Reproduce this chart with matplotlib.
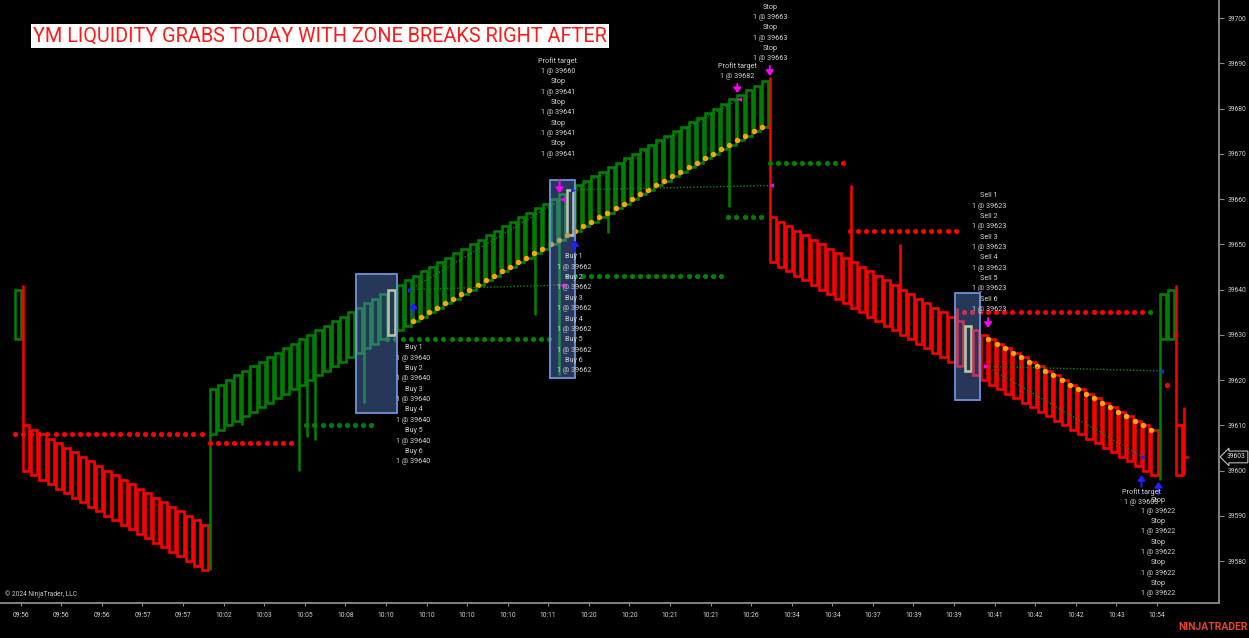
import matplotlib
matplotlib.use("Agg")
import matplotlib.pyplot as plt
from matplotlib.patches import Rectangle
import numpy as np

plt.rcParams['font.family'] = ['Roboto', 'DejaVu Sans']

# ---------------- data ----------------
title = "YM LIQUIDITY GRABS TODAY WITH ZONE BREAKS RIGHT AFTER"

x_tick_labels = ["09:56", "09:56", "09:56", "09:57", "09:57", "10:02", "10:03", "10:05",
                 "10:08", "10:10", "10:10", "10:10", "10:10", "10:11", "10:20", "10:20",
                 "10:21", "10:21", "10:26", "10:34", "10:34", "10:37", "10:39", "10:39",
                 "10:41", "10:42", "10:42", "10:43", "10:54"]
y_ticks = [39580, 39590, 39600, 39610, 39620, 39630, 39640, 39650, 39660, 39670, 39680, 39690, 39700]

# bar box tops / bottoms (bars 0..143)
box_top = [39640,
           39610, 39609, 39608, 39607, 39606, 39605, 39604, 39603, 39602, 39601, 39600, 39599,
           39598, 39597, 39596, 39595, 39594, 39593, 39592, 39591, 39590, 39589, 39588,
           39618, 39619, 39620, 39621, 39622, 39623, 39624, 39625, 39626, 39627,
           39628, 39629, 39630, 39631, 39632, 39633, 39634, 39635, 39636, 39637,
           39638, 39639, 39640, 39641, 39642, 39643, 39644, 39645, 39646, 39647,
           39648, 39649, 39650, 39651, 39652, 39653, 39654, 39655, 39656, 39657,
           39658, 39659, 39660, 39661, 39662, 39663, 39664, 39665, 39666, 39667,
           39668, 39669, 39670, 39671, 39672, 39673, 39674, 39675, 39676, 39677,
           39678, 39679, 39680, 39681, 39682, 39683, 39684, 39685, 39686,
           39656, 39655, 39654, 39653, 39652, 39651, 39650, 39649, 39648, 39647,
           39646, 39645, 39644, 39643, 39642, 39641, 39640, 39639, 39638, 39637,
           39636, 39635, 39634, 39633, 39632, 39631, 39630, 39629, 39628, 39627,
           39626, 39625, 39624, 39623, 39622, 39621, 39620, 39619, 39618, 39617,
           39616, 39615, 39614, 39613, 39612, 39611, 39610, 39609,
           39639, 39640, 39610]
box_bottom = [39629,
              39600, 39599, 39598, 39597, 39596, 39595, 39594, 39593, 39592, 39591, 39590, 39589,
              39588, 39587, 39586, 39585, 39584, 39583, 39582, 39581, 39580, 39579, 39578,
              39608, 39609, 39610, 39611, 39612, 39613, 39614, 39615, 39616, 39617,
              39618, 39619, 39620, 39621, 39622, 39623, 39624, 39625, 39626, 39627,
              39628, 39629, 39630, 39631, 39632, 39633, 39634, 39635, 39636, 39637,
              39638, 39639, 39640, 39641, 39642, 39643, 39644, 39645, 39646, 39647,
              39648, 39649, 39650, 39651, 39652, 39653, 39654, 39655, 39656, 39657,
              39658, 39659, 39660, 39661, 39662, 39663, 39664, 39665, 39666, 39667,
              39668, 39669, 39670, 39671, 39672, 39673, 39674, 39675, 39676,
              39646, 39645, 39644, 39643, 39642, 39641, 39640, 39639, 39638, 39637,
              39636, 39635, 39634, 39633, 39632, 39631, 39630, 39629, 39628, 39627,
              39626, 39625, 39624, 39623, 39622, 39621, 39620, 39619, 39618, 39617,
              39616, 39615, 39614, 39613, 39612, 39611, 39610, 39609, 39608, 39607,
              39606, 39605, 39604, 39603, 39602, 39601, 39600, 39599,
              39629, 39629, 39599]
# colour runs: G up, R down, Y highlighted signal bar
bar_runs = [("G", 1), ("R", 23), ("G", 22), ("Y", 1), ("G", 21), ("Y", 1), ("G", 24),
            ("R", 24), ("Y", 1), ("R", 23), ("G", 2), ("R", 1)]
wick_low = {24: 39578, 28: 39610, 35: 39600, 36: 39607.5, 37: 39606.7, 43: 39615,
            64: 39634.4, 67: 39621, 73: 39652.5, 88: 39658.3, 141: 39598}
wick_high = {1: 39641, 93: 39687, 103: 39663, 109: 39650, 116: 39636, 143: 39641}
open_ticks = [(1, 39630), (24, 39588), (93, 39676), (141, 39609), (143, 39630)]
# current (forming) bar 144
last_bar = 144
last_high, last_low, last_open, last_close = 39614, 39599, 39610, 39603

# zone dots
zone_price = [39608, 39606, 39610, 39629, 39643, 39656, 39668, 39653, 39635]
zone_start = [-0.4, 23.6, 35.5, 45.4, 67.6, 87.5, 92.6, 102.5, 116.5]
zone_end = [22.6, 33.6, 43.5, 65.4, 86.6, 91.5, 100.6, 115.5, 138.5]
zone_color = ["R", "R", "G", "G", "G", "G", "G", "R", "R"]
single_dots = [(101.6, 39668, "R"), (139.5, 39635, "G"), (141.5, 39619, "R")]

# trailing stop (orange) dots
trail_up_first = 49
trail_up = [39633, 39634, 39635, 39636, 39637, 39638, 39639, 39640, 39641, 39642, 39643,
            39644, 39645, 39646, 39647, 39648, 39649, 39650, 39651, 39652, 39653, 39654,
            39655, 39656, 39657, 39658, 39659, 39660, 39661, 39662, 39663, 39664, 39665,
            39666, 39667, 39668, 39669, 39670, 39671, 39672, 39673, 39674, 39675, 39676]
trail_dn_first = 120
trail_dn = [39629, 39628, 39627, 39626, 39625, 39624, 39623, 39622, 39621, 39620, 39619,
            39618, 39617, 39616, 39615, 39614, 39613, 39612, 39611, 39610, 39609]

# executions: entry -> exit dotted lines
exec_lines = [((48.3, 39640), (67.0, 39641)), ((48.3, 39640), (67.0, 39660)),
              ((68.4, 39662), (92.8, 39663)), ((68.4, 39662), (88.8, 39682)),
              ((119.3, 39623), (140.8, 39622)), ((119.3, 39623), (138.6, 39603))]
exec_marks = [(48.3, 39640, ">", "B"), (67.0, 39660, "<", "M"), (67.0, 39641, "<", "M"),
              (68.4, 39662, ">", "B"), (88.8, 39682, "<", "M"), (92.8, 39663, "<", "M"),
              (119.3, 39623, ">", "M"), (138.6, 39603, ">", "B"), (140.8, 39622, "<", "B")]
# arrows: bar, tail, tip
arrows = [(48.7, 39634.3, 39637.1, "B"), (68.6, 39648.3, 39650.9, "B"),
          (138.4, 39596.4, 39599.0, "B"), (140.5, 39594.8, 39597.5, "B"),
          (66.7, 39664.2, 39661.3, "M"), (88.6, 39685.4, 39683.4, "M"),
          (92.6, 39689.4, 39687.2, "M"), (119.5, 39633.7, 39631.5, "M")]
# highlight rectangles
hl_x0 = [41.6, 65.5, 115.4]
hl_x1 = [46.7, 68.6, 118.5]
hl_y0 = [39612.7, 39620.4, 39615.6]
hl_y1 = [39643.4, 39664.2, 39639.2]

# execution labels: (bar, first-line price, lines)
def pair(name, n, price):
    out = []
    for k in range(1, n + 1):
        out += [f"{name} {k}", f"1 @ {price}"]
    return out

labels = [
    (48.7, 39627.1, pair("Buy", 6, 39640)),
    (66.5, 39690.5, ["Profit target", "1 @ 39660"] + ["Stop", "1 @ 39641"] * 4),
    (68.5, 39647.2, pair("Buy", 6, 39662)),
    (92.6, 39702.4, ["Stop", "1 @ 39663"] * 3),
    (88.6, 39689.4, ["Profit target", "1 @ 39682"]),
    (119.6, 39660.7, pair("Sell", 6, 39623)),
    (138.4, 39595.25, ["Profit target", "1 @ 39603"]),
    (140.5, 39593.3, ["Stop", "1 @ 39622"] * 5),
]
current_price = 39603

# ---------------- styling ----------------
COL = {"G": "#008000", "R": "#ff0000", "Y": "#f0f07a", "B": "#2020ff", "M": "#ff00ff"}
BW = 0.76
LW = 1.85

fig = plt.figure(figsize=(12.49, 6.38), dpi=100, facecolor="black")
ax = fig.add_axes([0, 35 / 638, 1219 / 1249, 603 / 638])
ax.set_facecolor("black")
ax.set_xlim(-2.24, 147.95)
ax.set_ylim(39570.72, 39703.98)

# bars
colors = []
for c, n in bar_runs:
    colors += [c] * n
for i, (t, b, c) in enumerate(zip(box_top, box_bottom, colors)):
    col = COL[c]
    xl = i - BW / 2
    ax.add_patch(Rectangle((xl, b), BW, t - b, fill=False, ec=col, lw=LW,
                           joinstyle="miter", zorder=3))
    if i in wick_low:
        ax.plot([xl, xl], [wick_low[i], b], color=col, lw=LW, solid_capstyle="butt", zorder=3)
    if i in wick_high:
        ax.plot([xl, xl], [t, wick_high[i]], color=col, lw=LW, solid_capstyle="butt", zorder=3)
for i, p in open_ticks:
    xl = i - BW / 2
    ax.plot([xl - 0.3, xl], [p, p], color=COL[colors[i]], lw=LW, solid_capstyle="butt", zorder=3)
xl = last_bar - BW / 2
ax.plot([xl, xl], [last_low, last_high], color=COL["R"], lw=LW, solid_capstyle="butt", zorder=3)
ax.plot([xl - 0.3, xl], [last_open] * 2, color=COL["R"], lw=LW, zorder=3)
ax.plot([xl, xl + 0.35], [last_close] * 2, color=COL["R"], lw=LW, zorder=3)

# zone dots
for p, s, e, c in zip(zone_price, zone_start, zone_end, zone_color):
    xs = np.arange(s, e + 0.01, 1.0)
    ax.plot(xs, [p] * len(xs), "o", color=COL[c], ms=3.7, mew=0, zorder=4)
for x, p, c in single_dots:
    ax.plot([x], [p], "o", color=COL[c], ms=3.7, mew=0, zorder=4)

# trailing dots
xs = np.arange(trail_up_first, trail_up_first + len(trail_up)) - 0.4
ax.plot(xs, trail_up, "o", color="#ffa500", ms=3.9, mew=0, zorder=5)
xs = np.arange(trail_dn_first, trail_dn_first + len(trail_dn)) - 0.45
ax.plot(xs, trail_dn, "o", color="#ffa500", ms=3.9, mew=0, zorder=5)

# execution lines & markers
for (x0, y0), (x1, y1) in exec_lines:
    ax.plot([x0, x1], [y0, y1], color="#0f8a0f", lw=1.0, ls=(0, (1, 1.4)), zorder=5)
for x, p, m, c in exec_marks:
    ax.plot([x], [p], m, color=COL[c], ms=3.5, mew=0, zorder=7)
for x, tail, tip, c in arrows:
    ax.annotate("", xy=(x, tip), xytext=(x, tail),
                arrowprops=dict(arrowstyle="-|>,head_width=0.22,head_length=0.3",
                                color=COL[c], lw=1.4, shrinkA=0, shrinkB=0), zorder=7)

# highlight boxes
for x0, x1, y0, y1 in zip(hl_x0, hl_x1, hl_y0, hl_y1):
    ax.add_patch(Rectangle((x0, y0), x1 - x0, y1 - y0, fc=(0.39, 0.54, 0.88, 0.40),
                           ec="#6f93d6", lw=1.3, zorder=6))

# execution labels
for x, p, lines in labels:
    for k, s in enumerate(lines):
        ax.annotate(s, xy=(x, p), xytext=(0, -k * 7.45), textcoords="offset points",
                    ha="center", va="center", fontsize=5.2, color="#d2d2d2", zorder=8)

# axes
for s in ["top", "left"]:
    ax.spines[s].set_visible(False)
for s in ["bottom", "right"]:
    ax.spines[s].set_color("#8c8c8c")
    ax.spines[s].set_linewidth(1.3)
ax.yaxis.tick_right()
ax.set_yticks(y_ticks)
ax.set_yticklabels([str(v) for v in y_ticks])
ax.set_xticks([0.31 + 5 * j for j in range(len(x_tick_labels))])
ax.set_xticklabels(x_tick_labels)
ax.tick_params(axis="y", colors="#8c8c8c", labelcolor="#cfcfcf", labelsize=4.9,
               length=3.6, width=0.8, pad=2.8)
ax.tick_params(axis="x", colors="#8c8c8c", labelcolor="#cfcfcf", labelsize=4.9,
               length=2.2, width=0.8, pad=4.2)

ax.text(1.014, current_price, str(current_price), transform=ax.get_yaxis_transform(),
        ha="center", va="center", fontsize=4.9, color="#e6e6e6", clip_on=False,
        bbox=dict(boxstyle="larrow,pad=0.35", fc="black", ec="#bdbdbd", lw=0.8), zorder=9)

ax.text(0.004, 0.015, "\u00a9 2024 NinjaTrader, LLC", transform=ax.transAxes,
        fontsize=4.8, color="#c8c8c8", va="center", ha="left")

fig.text(0.0264, 0.9436, title, fontsize=14.3, color="#ff1a1a", va="center", ha="left",
         bbox=dict(boxstyle="square,pad=0.12", fc="white", ec="none"))
fig.text(0.999, 0.017, "NINJATRADER", ha="right", va="center", fontsize=7.5,
         fontweight="bold", color="#e8442a")

fig.savefig("out.png", dpi=100, facecolor="black")
